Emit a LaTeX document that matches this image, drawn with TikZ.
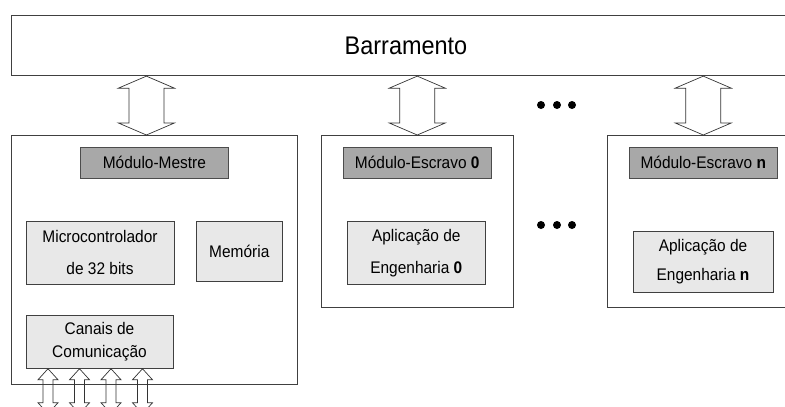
\documentclass[tikz,border=0pt]{standalone}
\usepackage{fontspec}
\setmainfont{Liberation Sans}[FakeStretch=0.92]
\usetikzlibrary{calc, positioning}

% hollow two-headed arrow between two points on one vertical
% #1 upper end, #2 lower end, #3 half head width, #4 half shaft width, #5 head length
\newcommand{\busarrow}[5]{%
  \draw[arrowline] let \p1=(#1), \p2=(#2) in
    (\x1,\y1) -- (\x1+#3,\y1-#5) -- (\x1+#4,\y1-#5) -- (\x1+#4,\y2+#5) -- (\x1+#3,\y2+#5)
    -- (\x1,\y2) -- (\x1-#3,\y2+#5) -- (\x1-#4,\y2+#5) -- (\x1-#4,\y1-#5) -- (\x1-#3,\y1-#5) -- cycle;}

\begin{document}
\begin{tikzpicture}[
        x=1pt, y=-1pt,
        every node/.style={inner sep=0pt, align=center, font=\fontsize{16.8}{19.5}\selectfont},
        module/.style={draw=black!75, line width=0.8pt, anchor=north west},
        header/.style={draw=black!70, fill=black!34, line width=0.8pt, minimum width=148pt, minimum height=31.5pt},
        part/.style={draw=black!75, fill=black!9, line width=0.8pt},
        arrowline/.style={draw=black!80, line width=0.7pt, line join=miter},
        dot/.style={circle, fill=black, minimum size=8pt}
        ]
        \useasboundingbox (0,0) rectangle (785,407);

        % Bus
        \node[draw=black!75, line width=0.8pt, minimum width=790pt, minimum height=60.5pt,
              font=\fontsize{25.5}{30}\selectfont] (bus) at (406,45.5) {Barramento};

        % Modules
        \node[module, minimum width=286pt, minimum height=249pt] (master) at (11,135) {};
        \node[module, minimum width=192.3pt, minimum height=172.3pt] (slave0) at (320.7,135) {};
        \node[module, minimum width=192.3pt, minimum height=172.3pt] (slaven) at (606.7,135) {};

        \node[header, below=11.7pt of master.north] (masterhead) {Módulo-Mestre};
        \node[header, below=11.7pt of slave0.north] (slave0head) {Módulo-Escravo \textbf{0}};
        \node[header, below=11.7pt of slaven.north] (slavenhead) {Módulo-Escravo \textbf{n}};

        % Parts of the master
        \node[part, minimum width=148pt, minimum height=63.3pt] (micro) at (100,252.7)
            {Microcontrolador\\[12pt]de 32 bits};
        \node[part, minimum width=86.7pt, minimum height=60.7pt] (memory) at (239.3,251.3) {Memória};
        \node[part, minimum width=147pt, minimum height=53.3pt] (channels) at (99.5,341.7)
            {Canais de\\[3pt]Comunicação};

        % Applications of the slaves
        \node[part, minimum width=137.3pt, minimum height=62.7pt] (app0) at (416.3,253)
            {Aplicação de\\[12pt]Engenharia \textbf{0}};
        \node[part, minimum width=140pt, minimum height=61.7pt] (appn) at (703,261.8)
            {Aplicação de\\[9pt]Engenharia \textbf{n}};

        % Dots
        \foreach \x [count=\i] in {541,557,572} {
            \node[dot] (upper\i) at (\x,105) {};
            \node[dot] (lower\i) at (\x,225) {};
        }

        % Arrows
        \coordinate (masterin) at ($(master.north)+(-8,0)$);
        \busarrow{bus.south -| masterin}{masterin}{28pt}{17.5pt}{12pt}
        \busarrow{bus.south -| slave0.north}{slave0.north}{28pt}{17.5pt}{12pt}
        \busarrow{bus.south -| slaven.north}{slaven.north}{28pt}{17.5pt}{12pt}

        \foreach \dx in {-51.5,-20,11.5,43} {
            \coordinate (chanout) at ($(channels.south)+(\dx,45)$);
            \busarrow{$(channels.south)+(\dx,0)$}{chanout}{10pt}{5pt}{11pt}
        }
    \end{tikzpicture}
\end{document}
